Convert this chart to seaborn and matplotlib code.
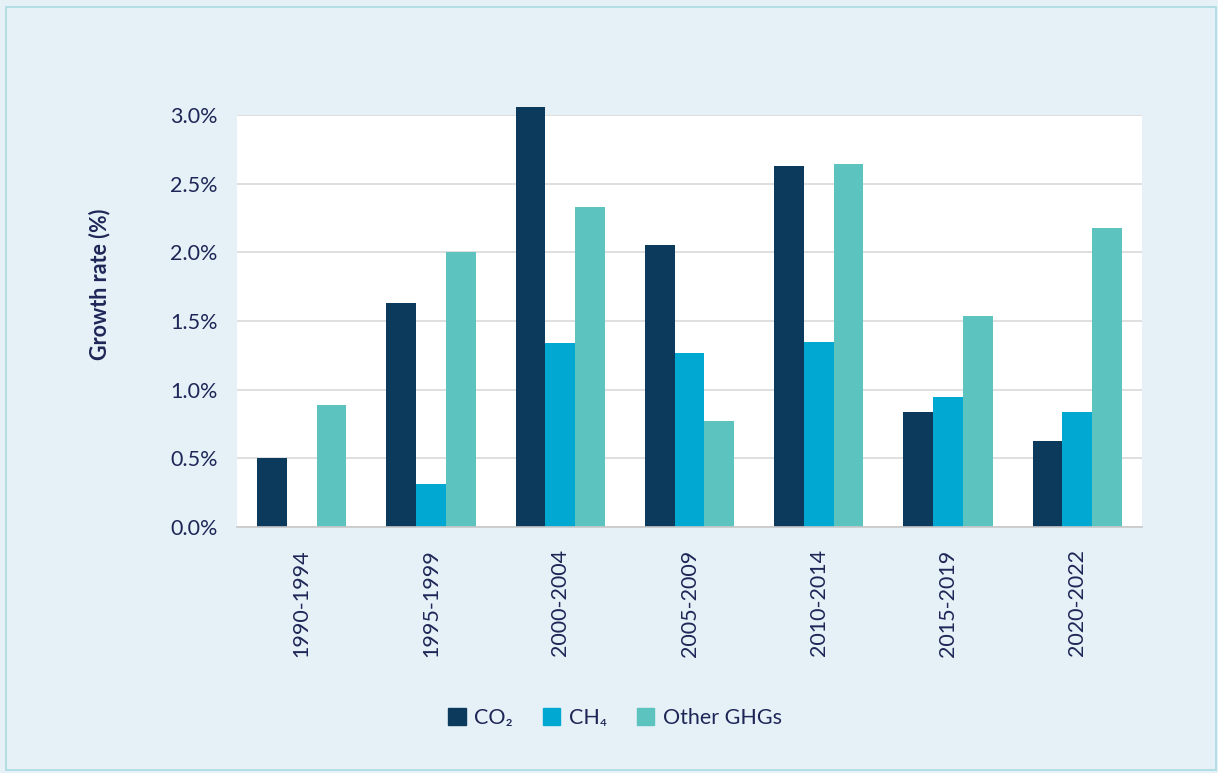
import numpy as np
import pandas as pd
import seaborn as sns
import matplotlib.pyplot as plt
from matplotlib.patches import Rectangle
from matplotlib.ticker import FuncFormatter

periods = ["1990-1994", "1995-1999", "2000-2004", "2005-2009",
           "2010-2014", "2015-2019", "2020-2022"]
co2 = [0.50, 1.63, 3.06, 2.05, 2.63, 0.84, 0.63]
ch4 = [0.00, 0.31, 1.34, 1.27, 1.35, 0.95, 0.84]
other = [0.89, 2.00, 2.33, 0.77, 2.64, 1.54, 2.18]
gases = ["CO\u2082", "CH\u2084", "Other GHGs"]
colors = ["#0b3a5d", "#00a8d2", "#5cc3be"]

bg = "#e6f1f7"
text_col = "#1e2657"

df = pd.DataFrame({
    "period": periods * 3,
    "gas": [gases[0]] * 7 + [gases[1]] * 7 + [gases[2]] * 7,
    "rate": co2 + ch4 + other,
})

sns.set_theme(style="white")
plt.rcParams["font.family"] = ["Lato", "DejaVu Sans"]

fig = plt.figure(figsize=(12.18, 7.73), dpi=100, facecolor=bg)
fig.patches.append(Rectangle((0.005, 0.004), 0.993, 0.987, transform=fig.transFigure,
                             fill=False, edgecolor="#a9dbe0", linewidth=1.2))
ax = fig.add_axes([0.1946, 0.3182, 0.743, 0.533])
ax.set_facecolor("white")

sns.barplot(data=df, x="period", y="rate", hue="gas", palette=colors,
            width=0.69, saturation=1, linewidth=0, ax=ax)

# CO2 2000-2004 pokes above the 3.0% line in the original
for p in ax.patches:
    p.set_clip_on(False)

ax.set_ylim(0, 3.0)
ax.set_xlim(-0.5, 6.5)
ax.set_yticks(np.arange(0, 3.01, 0.5))
ax.yaxis.set_major_formatter(FuncFormatter(lambda v, _: f"{v:.1f}%"))
ax.yaxis.grid(True, color="#d9d9d9", linewidth=1.2)
ax.set_axisbelow(True)
for s in ["top", "right", "left"]:
    ax.spines[s].set_visible(False)
ax.spines["bottom"].set_color("#c8c8c8")
ax.spines["bottom"].set_linewidth(1.2)
ax.tick_params(axis="both", length=0, labelsize=15.5, colors=text_col, pad=14)
ax.tick_params(axis="x", pad=16)
plt.setp(ax.get_xticklabels(), rotation=90)

ax.set_xlabel("")
ax.set_ylabel("Growth rate (%)", fontsize=15.5, fontweight="bold", color=text_col)
ax.yaxis.set_label_coords(-0.14, 0.59)

ax.get_legend().remove()
handles = [Rectangle((0, 0), 1, 1, color=c) for c in colors]
leg = fig.legend(handles, gases, loc="center", bbox_to_anchor=(0.505, 0.071), ncol=3,
                 frameon=False, fontsize=15.5, handlelength=0.8, handleheight=0.8,
                 handletextpad=0.4, columnspacing=1.4)
for t in leg.get_texts():
    t.set_color(text_col)

fig.savefig("out.png", dpi=100, facecolor=bg)
